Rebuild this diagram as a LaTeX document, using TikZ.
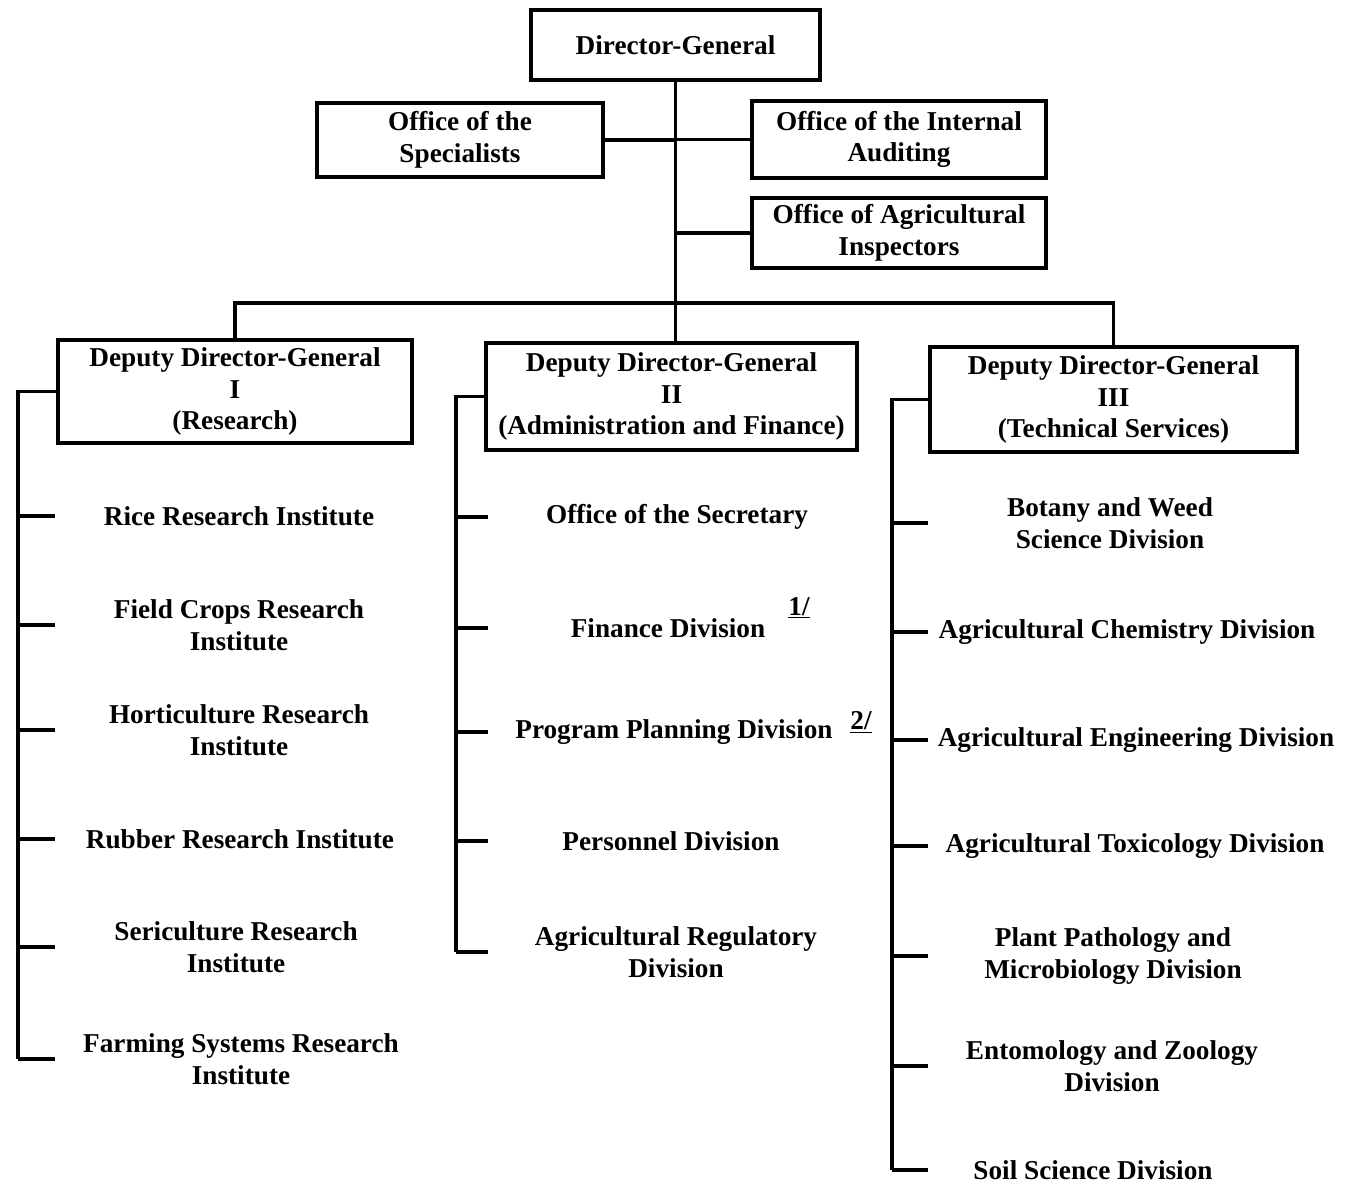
\documentclass[tikz,border=0pt]{standalone}
\usepackage{fontspec}
\setmainfont{Liberation Serif}
\usetikzlibrary{positioning}

\begin{document}
\begin{tikzpicture}[x=0.02cm,y=-0.02cm,line width=2pt,
  every node/.style={font=\bfseries\fontsize{15.5}{18}\selectfont},
  box/.style={draw,align=center,inner sep=0pt},
  item/.style={align=center,inner sep=0pt}]
\useasboundingbox[fill=white] (0,0) rectangle (1352,1185);

\node[box,minimum width=5.78cm,minimum height=1.4cm] (dg) at (675.5,45) {Director-General};
\node[box,minimum width=5.72cm,minimum height=1.48cm] (spec) at (460,140) {Office of the\\Specialists};
\node[box,minimum width=5.88cm,minimum height=1.54cm] (audit) at (899,139.5) {Office of the Internal\\Auditing};
\node[box,minimum width=5.88cm,minimum height=1.4cm] (insp) at (899,233) {Office of Agricultural\\Inspectors};
\node[box,minimum width=7.08cm,minimum height=2.06cm] (ddg1) at (235,391.5) {Deputy Director-General\\I\\(Research)};
\node[box,minimum width=7.42cm,minimum height=2.14cm] (ddg2) at (671.5,396.5) {Deputy Director-General\\II\\(Administration and Finance)};
\node[box,minimum width=7.34cm,minimum height=2.1cm] (ddg3) at (1113.5,399.5) {Deputy Director-General\\III\\(Technical Services)};

\coordinate (bar) at (676,303);
\draw (dg.south) -- (dg.south |- ddg2.north);
\draw (spec.east) -- (spec.east -| dg.south);
\draw (audit.west) -- (audit.west -| dg.south);
\draw (insp.west) -- (insp.west -| dg.south);
\draw (ddg1.north) |- (bar) -| (ddg3.north);

\node[item] (r1) at (239,516) {Rice Research Institute};
\node[item] (r2) at (239,625) {Field Crops Research\\Institute};
\node[item] (r3) at (239,730) {Horticulture Research\\Institute};
\node[item] (r4) at (240,839) {Rubber Research Institute};
\node[item] (r5) at (236,947) {Sericulture Research\\Institute};
\node[item] (r6) at (241,1059) {Farming Systems Research\\Institute};

\node[item] (a1) at (677,517) {Office of the Secretary};
\node[item] (a2) at (668,628) {Finance Division};
\node[item] (a3) at (674,732) {Program Planning Division};
\node[item] (a4) at (671,841) {Personnel Division};
\node[item] (a5) at (676,952) {Agricultural Regulatory\\Division};
\node[item] (fn1) at (799,608) {\underline{1/}};
\node[item] (fn2) at (861,722) {\underline{2/}};

\node[item] (t1) at (1110,523) {Botany and Weed\\Science Division};
\node[item] (t2) at (1127,632) {Agricultural Chemistry Division};
\node[item] (t3) at (1136,740) {Agricultural Engineering Division};
\node[item] (t4) at (1135,846) {Agricultural Toxicology Division};
\node[item] (t5) at (1113,956) {Plant Pathology and\\Microbiology Division};
\node[item] (t6) at (1112,1066) {Entomology and Zoology\\Division};
\node[item] (t7) at (1093,1170) {Soil Science Division};

\coordinate (lb) at (18,0);
\coordinate (mb) at (456,0);
\coordinate (rb) at (892,0);

\draw (ddg1.west) -| (lb |- r6);
\foreach \n in {1,...,6}
  \draw (lb |- r\n) -- ++(37,0);
\draw (ddg2.west) -| (mb |- a5);
\foreach \n in {1,...,5}
  \draw (mb |- a\n) -- ++(32,0);
\draw (ddg3.west) -| (rb |- t7);
\foreach \n in {1,...,7}
  \draw (rb |- t\n) -- ++(36,0);
\end{tikzpicture}
\end{document}
